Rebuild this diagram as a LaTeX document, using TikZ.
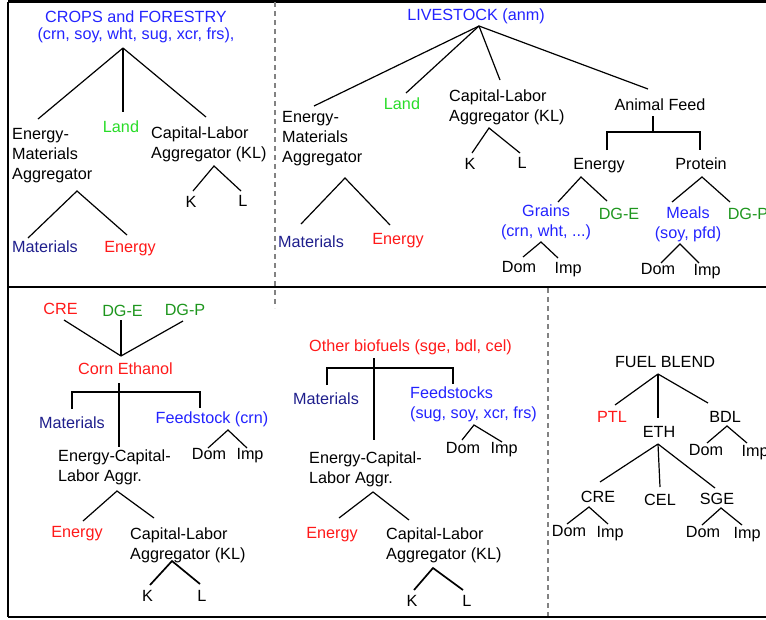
\documentclass[tikz,border=0pt]{standalone}
\usepackage{fontspec}
\setmainfont{Liberation Sans}
\definecolor{cblue}{RGB}{35,35,255}
\definecolor{cnavy}{RGB}{30,30,140}
\definecolor{cred}{RGB}{255,25,25}
\definecolor{cgreen}{RGB}{40,220,40}
\definecolor{cdgreen}{RGB}{30,150,30}
\definecolor{cdash}{RGB}{130,130,130}
\begin{document}
\begin{tikzpicture}[x=1pt,y=-1pt,
  lbl/.style={font=\fontsize{16.2}{20}\selectfont, inner sep=0pt, anchor=base},
  lblL/.style={font=\fontsize{16.2}{20}\selectfont, inner sep=0pt, anchor=north west, align=left},
  lblC/.style={font=\fontsize{16.2}{20}\selectfont, inner sep=0pt, anchor=north, align=center},
  treeline/.style={line width=1.2pt},
  treethick/.style={line width=1.7pt},
  frm/.style={line width=2.2pt},
  sep/.style={line width=1.6pt, cdash, dash pattern=on 5pt off 4pt}]
\useasboundingbox (0,0) rectangle (766,619);

% frame
\draw[frm] (8,1.5) -- (766,1.5);
\draw[frm] (8,1.5) -- (8,617);
\draw[frm] (8,287) -- (766,287);
\draw[frm] (8,617) -- (766,617);
\draw[sep] (275,2) -- (275,308);
\draw[sep] (548,288) -- (548,616);

% ---------- top-left: crops and forestry
\node[lblC, cblue, font=\fontsize{16.2}{16.5}\selectfont] (crops) at (136,11) {CROPS and FORESTRY\\(crn, soy, wht, sug, xcr, frs),};
\coordinate (cfA) at (123,48);
\node[lblL] (ema1) at (12,128) {Energy-\\Materials\\Aggregator};
\node[lbl, cgreen] (land1) at (121,132) {Land};
\node[lblL] (kl1) at (151,127) {Capital-Labor\\Aggregator (KL)};
\draw[treeline] (cfA) -- ([shift={(26,-9)}]ema1.north west);
\draw[treeline] (cfA) -- ([shift={(2,-20)}]land1.base);
\draw[treeline] (cfA) -- ([shift={(55,-10)}]kl1.north west);
\coordinate (kl1A) at (214,166);
\node[lbl] (k1) at (191,207) {K};
\node[lbl] (l1) at (243,206) {L};
\draw[treeline] ([shift={(2,-16)}]k1.base) -- (kl1A) -- ([shift={(-2,-15)}]l1.base);
\coordinate (ema1A) at (77,191);
\node[lbl, cnavy] (mat1) at (45,252) {Materials};
\node[lbl, cred] (en1) at (130,252) {Energy};
\draw[treeline] ([shift={(-17,-14)}]mat1.base) -- (ema1A) -- ([shift={(-3,-17)}]en1.base);

% ---------- top-right: livestock
\node[lbl, cblue] (live) at (476,20) {LIVESTOCK (anm)};
\coordinate (liveA) at (479,26);
\node[lblL] (ema2) at (282,111) {Energy-\\Materials\\Aggregator};
\node[lbl, cgreen] (land2) at (402,109) {Land};
\node[lblL] (kl2) at (449,90) {Capital-Labor\\Aggregator (KL)};
\node[lbl] (af) at (660,110) {Animal Feed};
\draw[treeline] (liveA) -- ([shift={(32,-5)}]ema2.north west);
\draw[treeline] (liveA) -- ([shift={(4,-16)}]land2.base);
\draw[treeline] (liveA) -- ([shift={(51,-10)}]kl2.north west);
\draw[treeline] (liveA) -- ([shift={(-12,-21)}]af.base);
\coordinate (kl2A) at (489,128);
\node[lbl] (k2) at (470,169) {K};
\node[lbl] (l2) at (522,168) {L};
\draw[treeline] ([shift={(2,-16)}]k2.base) -- (kl2A) -- ([shift={(-2,-15)}]l2.base);
\coordinate (ema2A) at (345,178);
\node[lbl, cnavy] (mat2) at (311,247) {Materials};
\node[lbl, cred] (en2) at (398,244) {Energy};
\draw[treeline] ([shift={(-10,-23)}]mat2.base) -- (ema2A) -- ([shift={(-8,-19)}]en2.base);
\coordinate (afJ) at (653,132);
\node[lbl] (enf) at (599,169) {Energy};
\node[lbl] (prot) at (701,169) {Protein};
\draw[treeline] ([shift={(-7,6)}]af.base) -- (afJ);
\draw[treeline] ([shift={(8,-19)}]enf.base) |- (afJ) -| ([shift={(-1,-19)}]prot.base);
\coordinate (enfA) at (581,177);
\node[lblC, cblue] (grains) at (546,205) {Grains\\(crn, wht, ...)};
\node[lbl, cdgreen] (dge1) at (619,219) {DG-E};
\draw[treeline] ([shift={(12,-3)}]grains.north) -- (enfA) -- ([shift={(-12,-18)}]dge1.base);
\coordinate (protA) at (702,177);
\node[lblC, cblue] (meals) at (688,207) {Meals\\(soy, pfd)};
\node[lbl, cdgreen] (dgp1) at (748,219) {DG-P};
\draw[treeline] ([shift={(-16,-5)}]meals.north) -- (protA) -- ([shift={(-18,-17)}]dgp1.base);
\coordinate (grA) at (541,242);
\node[lbl] (dom1) at (519,272) {Dom};
\node[lbl] (imp1) at (568,273) {Imp};
\draw[treeline] ([shift={(4,-15)}]dom1.base) -- (grA) -- ([shift={(-10,-15)}]imp1.base);
\coordinate (meA) at (680,244);
\node[lbl] (dom2) at (658,274) {Dom};
\node[lbl] (imp2) at (707,275) {Imp};
\draw[treeline] ([shift={(3,-11)}]dom2.base) -- (meA) -- ([shift={(-8,-12)}]imp2.base);

% ---------- bottom-left: corn ethanol
\node[lbl, cred] (cre1) at (60.5,314) {CRE};
\node[lbl, cdgreen] (dge2) at (122.5,316) {DG-E};
\node[lbl, cdgreen] (dgp2) at (185,315) {DG-P};
\node[lbl, cred] (ce) at (125.5,374) {Corn Ethanol};
\coordinate (ceA) at (121,356);
\draw[treeline] ([shift={(3.5,6)}]cre1.base) -- (ceA);
\draw[treeline] ([shift={(-1.5,4)}]dge2.base) -- (ceA);
\draw[treeline] ([shift={(-2,6)}]dgp2.base) -- (ceA);
\coordinate (ceJ) at (119,392);
\node[lbl, cnavy] (mat3) at (72,428) {Materials};
\node[lbl, cblue] (feed1) at (212,423) {Feedstock (crn)};
\node[lblL] (ecl1) at (58,450) {Energy-Capital-\\Labor Aggr.};
\draw[treeline] ([shift={(-6.5,9)}]ce.base) -- ([shift={(61,-3)}]ecl1.north west);
\draw[treeline] ([shift={(0,-19)}]mat3.base) |- (ceJ) -| ([shift={(-12,-15)}]feed1.base);
\coordinate (feed1A) at (228,430);
\node[lbl] (dom3) at (209,459) {Dom};
\node[lbl] (imp3) at (250,459) {Imp};
\draw[treeline] ([shift={(-1,-11)}]dom3.base) -- (feed1A) -- ([shift={(-3,-11)}]imp3.base);
\coordinate (ecl1A) at (117,491);
\node[lbl, cred] (en3) at (77,537) {Energy};
\node[lblL] (kl3) at (130,528) {Capital-Labor\\Aggregator (KL)};
\draw[treeline] ([shift={(6,-16)}]en3.base) -- (ecl1A) -- ([shift={(24,-10)}]kl3.north west);
\coordinate (kl3A) at (172,561);
\node[lbl] (k3) at (147.5,601) {K};
\node[lbl] (l3) at (202,601) {L};
\draw[treethick] ([shift={(2.5,-16)}]k3.base) -- (kl3A) -- ([shift={(-2,-17)}]l3.base);

% ---------- bottom-middle: other biofuels
\node[lbl, cred] (ob) at (410.5,351) {Other biofuels (sge, bdl, cel)};
\coordinate (obJ) at (374,368);
\node[lbl, cnavy] (mat4) at (326,404) {Materials};
\node[lblL, cblue] (feed2) at (410,387) {Feedstocks\\(sug, soy, xcr, frs)};
\node[lblL] (ecl2) at (309,452) {Energy-Capital-\\Labor Aggr.};
\draw[treeline] ([shift={(-36.5,7)}]ob.base) -- ([shift={(65,-12)}]ecl2.north west);
\draw[treeline] ([shift={(1,-19)}]mat4.base) |- (obJ) -| ([shift={(43,-3)}]feed2.north west);
\coordinate (feed2A) at (474,425);
\node[lbl] (dom4) at (463,453) {Dom};
\node[lbl] (imp4) at (504,453) {Imp};
\draw[treeline] ([shift={(-1,-13)}]dom4.base) -- (feed2A) -- ([shift={(-2,-11)}]imp4.base);
\coordinate (ecl2A) at (373,492);
\node[lbl, cred] (en4) at (332,538) {Energy};
\node[lblL] (kl4) at (386,528) {Capital-Labor\\Aggregator (KL)};
\draw[treeline] ([shift={(7,-20)}]en4.base) -- (ecl2A) -- ([shift={(23,-8)}]kl4.north west);
\coordinate (kl4A) at (433,568);
\node[lbl] (k4) at (412,606) {K};
\node[lbl] (l4) at (467,606) {L};
\draw[treethick] ([shift={(2,-16)}]k4.base) -- (kl4A) -- ([shift={(-4,-16)}]l4.base);

% ---------- bottom-right: fuel blend
\node[lbl] (fb) at (665,367) {FUEL BLEND};
\coordinate (fbA) at (658,374);
\node[lbl, cred] (ptl) at (612,422) {PTL};
\node[lbl] (eth) at (659,437) {ETH};
\node[lbl] (bdl) at (725,422) {BDL};
\draw[treeline] (fbA) -- ([shift={(3,-17)}]ptl.base);
\draw[treeline] (fbA) -- ([shift={(-1,-19)}]eth.base);
\draw[treeline] (fbA) -- ([shift={(-17,-19)}]bdl.base);
\coordinate (bdlA) at (727,426);
\node[lbl] (dom5) at (706,455) {Dom};
\node[lbl] (imp5) at (755,456) {Imp};
\draw[treeline] ([shift={(1,-12)}]dom5.base) -- (bdlA) -- ([shift={(-8,-13)}]imp5.base);
\coordinate (ethA) at (658,444);
\node[lbl] (cre2) at (598,502) {CRE};
\node[lbl] (cel) at (660,505) {CEL};
\node[lbl] (sge) at (717,504) {SGE};
\draw[treeline] (ethA) -- ([shift={(2,-20)}]cre2.base);
\draw[treeline] (ethA) -- ([shift={(0,-18)}]cel.base);
\draw[treeline] (ethA) -- ([shift={(-2,-16)}]sge.base);
\coordinate (cre2A) at (589,507);
\node[lbl] (dom6) at (569,536) {Dom};
\node[lbl] (imp6) at (610,537) {Imp};
\draw[treeline] ([shift={(-2,-12)}]dom6.base) -- (cre2A) -- ([shift={(-2,-13)}]imp6.base);
\coordinate (sgeA) at (721,508);
\node[lbl] (dom7) at (703,537) {Dom};
\node[lbl] (imp7) at (747,538) {Imp};
\draw[treeline] ([shift={(-1,-12)}]dom7.base) -- (sgeA) -- ([shift={(-5,-13)}]imp7.base);
\end{tikzpicture}
\end{document}
